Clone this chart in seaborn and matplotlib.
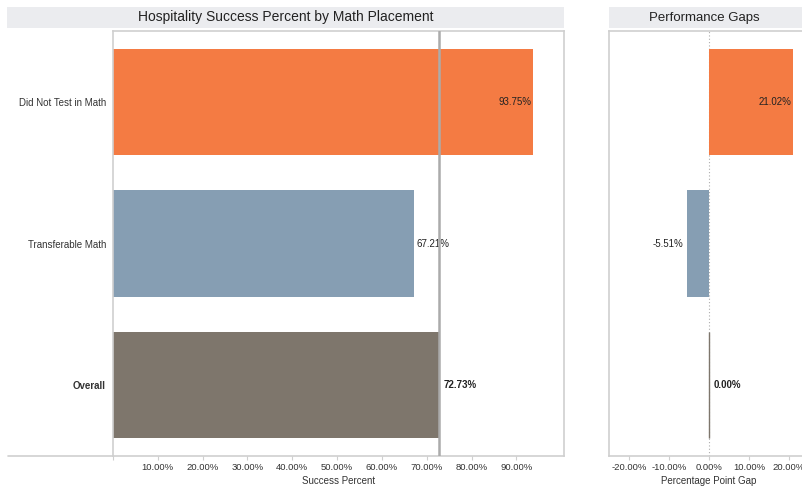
import matplotlib
matplotlib.use("Agg")
import matplotlib.pyplot as plt
from matplotlib.patches import Rectangle
from matplotlib.lines import Line2D
import seaborn as sns
import pandas as pd

categories = ["Did Not Test in Math", "Transferable Math", "Overall"]
success_pct = [93.75, 67.21, 72.73]
gap_pct = [21.02, -5.51, 0.00]
bar_colors = ["#F47B43", "#869EB3", "#7E766C"]
left_ticks = [0, 10, 20, 30, 40, 50, 60, 70, 80, 90]
right_ticks = [-20, -10, 0, 10, 20]
overall_value = success_pct[2]

sns.set_theme(style="white")
plt.rcParams["font.family"] = ["Liberation Sans", "DejaVu Sans"]

df = pd.DataFrame({"cat": categories, "success": success_pct, "gap": gap_pct})
palette = dict(zip(categories, bar_colors))

W, H = 802, 487
fig = plt.figure(figsize=(W / 100, H / 100), dpi=100)

def fx(px):
    return px / W

def fy(py):
    return 1 - py / H

spine_col = "#CFCFCF"
text_col = "#333333"

axL = fig.add_axes([fx(113), fy(456), fx(564 - 113), (456 - 31) / H])
axR = fig.add_axes([fx(609), fy(456), fx(200), (456 - 31) / H])

sns.barplot(data=df, x="success", y="cat", hue="cat", palette=palette, legend=False,
            width=0.75, saturation=1, orient="h", ax=axL, linewidth=0)
sns.barplot(data=df, x="gap", y="cat", hue="cat", palette=palette, legend=False,
            width=0.75, saturation=1, orient="h", ax=axR, linewidth=0)

for ax in (axL, axR):
    ax.set_ylim(2.5, -0.5)
    for s in ax.spines.values():
        s.set_color(spine_col)
        s.set_linewidth(1.2)
    ax.tick_params(axis="x", bottom=True, length=3, width=0.8, color=spine_col,
                   labelsize=6.8, labelcolor=text_col, pad=2)
    ax.tick_params(axis="y", left=False, length=0)
    ax.set_ylabel("")

# Left panel
axL.set_xlim(0, 100.6)
axL.set_xticks(left_ticks)
axL.set_xticklabels(["" if t == 0 else f"{t:.2f}%" for t in left_ticks])
axL.set_xlabel("Success Percent", fontsize=7, color=text_col, labelpad=3)
axL.tick_params(axis="y", labelsize=7, labelcolor=text_col, pad=5)
for lbl in axL.get_yticklabels():
    if lbl.get_text() == "Overall":
        lbl.set_fontweight("bold")

for i, v in enumerate(success_pct):
    if i == 0:
        axL.text(v - 0.5, i, f"{v:.2f}%", ha="right", va="center", fontsize=7, color="#222222")
    elif i == 2:
        axL.text(v + 1.0, i, f"{v:.2f}%", ha="left", va="center", fontsize=7,
                 color="#222222", fontweight="bold")
    else:
        axL.text(v + 0.6, i, f"{v:.2f}%", ha="left", va="center", fontsize=7, color="#222222")

axL.axvline(overall_value, color="#ABABAB", linewidth=1.8, zorder=5)

# Right panel
axR.set_xlim(-25, 25)
axR.set_xticks(right_ticks)
axR.set_xticklabels([f"{t:.2f}%" for t in right_ticks])
axR.set_xlabel("Percentage Point Gap", fontsize=7, color=text_col, labelpad=3)
axR.set_yticks([])
axR.axvline(0, color="#ADADAD", linewidth=0.8, linestyle=(0, (1, 2)), zorder=0)
# zero-width Overall bar drawn as a thin edge
for p, c in zip(axR.patches, bar_colors):
    if abs(p.get_width()) < 1e-9:
        p.set_edgecolor(c)
        p.set_linewidth(1.0)

for i, v in enumerate(gap_pct):
    if v > 0:
        axR.text(v - 0.4, i, f"{v:.2f}%", ha="right", va="center", fontsize=7, color="#222222")
    elif v < 0:
        axR.text(v - 0.8, i, f"{v:.2f}%", ha="right", va="center", fontsize=7, color="#222222")
    else:
        axR.text(v + 1.2, i, f"{v:.2f}%", ha="left", va="center", fontsize=7,
                 color="#222222", fontweight="bold")

# extend left panel bottom rule under the row labels
fig.add_artist(Line2D([fx(8), fx(113)], [fy(456), fy(456)], color=spine_col, linewidth=1.2))

# title strips
strip_col = "#EBECEF"
fig.add_artist(Rectangle((fx(7), fy(28)), fx(564 - 7), 21 / H, color=strip_col, linewidth=0))
fig.add_artist(Rectangle((fx(609), fy(28)), fx(210), 21 / H, color=strip_col, linewidth=0))
fig.text(fx(286), fy(17.5), "Hospitality Success Percent by Math Placement", ha="center",
         va="center", fontsize=10, color="#222222")
fig.text(fx(704), fy(17.5), "Performance Gaps", ha="center", va="center", fontsize=9.5,
         color="#222222")

fig.savefig("out.png", dpi=100)
